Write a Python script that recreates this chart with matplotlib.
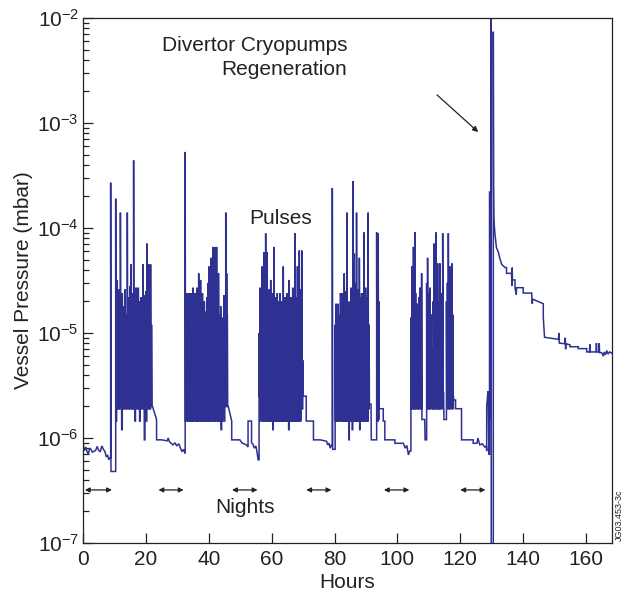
"""Vessel pressure over one week of operation, with divertor cryopump regeneration."""

import matplotlib
matplotlib.use("Agg")
import matplotlib.pyplot as plt
from matplotlib.ticker import FixedLocator, LogLocator, NullFormatter

plt.rcParams["font.family"] = ["Liberation Sans", "DejaVu Sans"]
plt.rcParams["mathtext.fontset"] = "custom"
plt.rcParams["mathtext.rm"] = "Liberation Sans"
plt.rcParams["mathtext.it"] = "Liberation Sans:italic"

LINE = "#2e3192"
INK = "#222222"
FS = 15

# --- data (hours, mbar) ----------------------------------------------------
# quiet periods (nights) as plain points
n0_t = [0.0, 0.2, 0.5, 0.9, 1.3, 1.7, 2.1, 2.5, 3.0, 3.5, 4.0, 4.5, 5.0, 5.5, 6.0, 6.5, 7.0, 7.4, 7.8, 8.2, 8.6]
n0_p = [1.0e-6, 8.2e-7, 7.6e-7, 8.2e-7, 7.4e-7, 7.0e-7, 8.0e-7, 7.8e-7, 7.3e-7, 7.5e-7, 7.6e-7, 8.3e-7,
        7.6e-7, 7.4e-7, 8.4e-7, 7.8e-7, 7.4e-7, 6.6e-7, 6.9e-7, 6.2e-7, 6.5e-7]

n1_t = [22.1, 23.4, 23.4, 25.0, 26.8, 27.1, 27.5, 28.6, 29.3, 29.8, 30.5, 31.0, 31.5, 32.0, 32.4]
n1_p = [2.0e-6, 1.5e-6, 9.6e-7, 9.6e-7, 9.4e-7, 1.0e-6, 9.2e-7, 8.6e-7, 9.0e-7, 8.4e-7, 8.8e-7, 8.0e-7,
        7.4e-7, 7.8e-7, 7.2e-7]

n2_t = [46.2, 47.3, 47.3, 49.9, 50.5, 51.2, 52.0, 52.5, 52.5, 53.6, 53.6, 54.0, 54.5, 55.0, 55.4, 55.7]
n2_p = [2.0e-6, 1.45e-6, 9.6e-7, 9.6e-7, 9.0e-7, 8.8e-7, 8.6e-7, 8.2e-7, 1.45e-6, 1.45e-6, 9.0e-7,
        8.8e-7, 8.0e-7, 8.4e-7, 7.2e-7, 6.2e-7]

n3_t = [70.3, 71.0, 71.0, 73.3, 73.3, 75.5, 77.5, 77.8, 78.3, 78.6, 79.0]
n3_p = [2.5e-6, 2.5e-6, 1.45e-6, 1.45e-6, 9.6e-7, 9.6e-7, 9.3e-7, 8.6e-7, 8.9e-7, 8.0e-7, 8.5e-7]

n4_t = [94.6, 95.5, 95.5, 96.0, 96.0, 99.2, 99.2, 101.9, 102.5, 103.0, 103.5, 103.9]
n4_p = [1.9e-6, 1.9e-6, 1.45e-6, 1.45e-6, 9.6e-7, 9.6e-7, 8.9e-7, 8.9e-7, 8.0e-7, 8.5e-7, 6.9e-7, 7.5e-7]

n5_t = [118.0, 118.5, 118.5, 120.4, 120.4, 124.1, 124.1, 125.3, 125.6, 126.2, 127.0, 127.8, 128.3,
        128.4, 128.4, 128.8, 128.9, 129.1]
n5_p = [2.3e-6, 2.3e-6, 1.9e-6, 1.9e-6, 9.6e-7, 9.6e-7, 8.9e-7, 8.9e-7, 1.0e-6, 8.6e-7, 8.8e-7, 8.2e-7,
        8.4e-7, 7.5e-7, 2.0e-6, 2.8e-6, 2.3e-6, 7.0e-7]

# pulse days: pulse time, peak pressure, pressure the trace falls back to
d1_t = [8.8, 10.4, 10.7, 10.9, 11.2, 11.5, 11.9, 12.2, 12.5, 12.8,
        13.1, 13.4, 13.7, 14.1, 14.4, 14.7, 15.0, 15.3, 15.6, 15.9,
        16.1, 16.4, 16.7, 17.0, 17.3, 17.6, 17.9, 18.2, 18.5, 18.8,
        19.1, 19.4, 19.7, 20.0, 20.3, 20.6, 20.9, 21.2, 21.5, 21.8]
d1_peak = [2.7e-4, 1.9e-4, 2.2e-5, 3.2e-5, 1.6e-5, 2.6e-5, 1.4e-4, 2.0e-5, 2.4e-5, 1.2e-5,
           1.8e-5, 2.6e-5, 1.5e-5, 1.4e-4, 2.2e-5, 1.7e-5, 2.8e-5, 4.5e-5, 1.4e-5, 2.4e-5,
           4.4e-4, 2.7e-5, 1.8e-5, 2.7e-5, 1.3e-5, 2.7e-5, 2.0e-5, 1.1e-5, 2.2e-5, 1.7e-5,
           4.5e-5, 2.3e-5, 1.5e-5, 2.5e-5, 7.1e-5, 2.4e-5, 4.5e-5, 1.8e-5, 4.5e-5, 1.2e-5]
d1_low = [4.8e-7, 1.45e-6, 1.9e-6, 2.3e-6, 1.9e-6, 1.9e-6, 2.3e-6, 1.2e-6, 1.9e-6, 1.9e-6,
          2.3e-6, 1.9e-6, 1.9e-6, 2.3e-6, 1.9e-6, 1.9e-6, 2.3e-6, 1.9e-6, 1.9e-6, 2.3e-6,
          1.9e-6, 1.45e-6, 1.9e-6, 2.3e-6, 1.9e-6, 1.9e-6, 1.45e-6, 1.9e-6, 2.3e-6, 1.9e-6,
          1.9e-6, 9.6e-7, 1.9e-6, 1.45e-6, 1.9e-6, 2.3e-6, 1.9e-6, 1.9e-6, 2.0e-6, 2.0e-6]

d2_t = [32.5, 32.9, 33.2, 33.5, 33.8, 34.1, 34.4, 34.7, 35.0, 35.3,
        35.6, 35.9, 36.2, 36.5, 36.8, 37.1, 37.4, 37.7, 38.0, 38.3,
        38.6, 38.9, 39.2, 39.5, 39.8, 40.1, 40.4, 40.7, 41.0, 41.3,
        41.6, 41.9, 42.2, 42.5, 42.8, 43.1, 43.4, 43.8, 44.1, 44.4,
        44.8, 45.1, 45.4, 45.7, 45.9]
d2_peak = [5.3e-4, 2.4e-5, 1.8e-5, 2.4e-5, 1.5e-5, 2.4e-5, 2.0e-5, 2.4e-5, 2.7e-5, 1.6e-5,
           2.4e-5, 2.0e-5, 2.7e-5, 1.8e-5, 3.7e-5, 2.2e-5, 3.2e-5, 1.6e-5, 2.4e-5, 1.4e-5,
           2.0e-5, 1.2e-5, 1.6e-5, 2.2e-5, 3.0e-5, 4.3e-5, 2.0e-5, 5.2e-5, 2.5e-5, 6.6e-5,
           1.8e-5, 6.6e-5, 2.8e-5, 6.6e-5, 2.0e-5, 3.7e-5, 1.5e-5, 1.8e-5, 1.2e-5, 1.4e-5,
           2.3e-5, 1.0e-5, 1.4e-4, 3.7e-5, 1.5e-5]
d2_low = [1.45e-6, 2.0e-6, 1.45e-6, 2.0e-6, 1.45e-6,
          2.0e-6, 1.45e-6, 1.45e-6, 2.0e-6, 1.45e-6,
          2.0e-6, 1.45e-6, 1.45e-6, 2.0e-6, 1.45e-6,
          2.0e-6, 1.45e-6, 1.45e-6, 2.0e-6, 1.45e-6,
          1.45e-6, 2.0e-6, 1.45e-6, 2.0e-6, 1.45e-6,
          1.45e-6, 2.0e-6, 1.45e-6, 2.0e-6, 1.45e-6,
          1.45e-6, 2.0e-6, 1.45e-6, 2.0e-6, 1.45e-6,
          1.45e-6, 2.0e-6, 1.2e-6, 1.45e-6, 2.0e-6,
          1.45e-6, 2.0e-6, 2.0e-6, 2.0e-6, 2.0e-6]

d3_t = [56.0, 56.3, 56.6, 57.0, 57.3, 57.6, 57.9, 58.1, 58.4, 58.6,
        58.9, 59.2, 59.5, 59.7, 60.0, 60.3, 60.5, 60.7, 61.0, 61.3,
        61.6, 61.8, 62.1, 62.4, 62.7, 63.0, 63.3, 63.5, 63.7, 64.0,
        64.3, 64.6, 64.8, 65.1, 65.3, 65.6, 65.9, 66.2, 66.5, 66.7,
        67.0, 67.2, 67.4, 67.7, 68.0, 68.2, 68.5, 68.8, 69.1, 69.3,
        69.6, 69.9]
d3_peak = [1.0e-5, 2.7e-5, 1.5e-5, 4.3e-5, 2.0e-5, 5.9e-5, 2.5e-5, 8.9e-5, 3.0e-5, 5.9e-5,
           1.8e-5, 2.6e-5, 1.5e-5, 3.2e-5, 2.0e-5, 2.4e-5, 1.4e-5, 6.6e-5, 1.8e-5, 2.2e-5,
           1.2e-5, 2.4e-5, 1.6e-5, 2.0e-5, 2.4e-5, 1.3e-5, 2.0e-5, 1.5e-5, 4.3e-5, 1.8e-5,
           2.2e-5, 1.4e-5, 2.4e-5, 1.7e-5, 1.2e-5, 3.2e-5, 1.6e-5, 2.2e-5, 1.3e-5, 2.7e-5,
           1.8e-5, 2.4e-5, 8.9e-5, 2.2e-5, 1.6e-5, 4.3e-5, 2.0e-5, 6.1e-5, 1.8e-5, 2.6e-5,
           6.1e-5, 5.5e-6]
d3_low = [2.5e-6, 1.45e-6, 1.9e-6, 1.45e-6, 1.45e-6, 1.9e-6, 1.45e-6, 1.9e-6, 1.45e-6, 1.45e-6,
          1.9e-6, 1.45e-6, 1.45e-6, 1.9e-6, 1.45e-6, 1.2e-6, 1.45e-6, 1.9e-6, 1.45e-6, 1.45e-6,
          1.9e-6, 1.45e-6, 1.45e-6, 1.9e-6, 1.45e-6, 1.45e-6, 1.9e-6, 1.45e-6, 1.45e-6, 1.9e-6,
          1.45e-6, 1.45e-6, 1.9e-6, 1.45e-6, 1.2e-6, 1.9e-6, 1.45e-6, 1.45e-6, 1.9e-6, 1.45e-6,
          1.45e-6, 1.9e-6, 1.45e-6, 1.45e-6, 1.9e-6, 1.45e-6, 1.45e-6, 1.9e-6, 1.45e-6, 1.9e-6,
          1.9e-6, 2.5e-6]

d4_t = [79.3, 80.2, 80.5, 80.8, 81.2, 81.5, 81.9, 82.2, 82.5, 82.8,
        83.1, 83.4, 83.7, 83.9, 84.2, 84.5, 84.7, 85.0, 85.2, 85.5,
        85.8, 86.0, 86.3, 86.6, 86.8, 87.0, 87.3, 87.6, 87.9, 88.1,
        88.4, 88.6, 88.9, 89.1, 89.3, 89.6, 89.9, 90.2, 90.4, 90.7,
        91.0, 91.6, 93.4, 93.6, 93.9, 94.1]
d4_peak = [2.4e-4, 1.2e-5, 1.9e-5, 1.4e-5, 1.9e-5, 1.5e-5, 2.4e-5, 1.3e-5, 2.4e-5, 1.6e-5,
           3.7e-5, 1.8e-5, 2.5e-5, 1.4e-4, 2.0e-5, 1.4e-5, 6.4e-6, 2.0e-5, 2.7e-5, 1.6e-5,
           2.8e-4, 2.2e-5, 5.7e-5, 1.8e-5, 3.0e-5, 1.4e-4, 2.0e-5, 2.6e-5, 5.2e-5, 1.7e-5,
           2.2e-5, 2.4e-5, 1.5e-5, 2.4e-5, 9.1e-5, 1.8e-5, 2.7e-5, 1.6e-5, 2.2e-5, 1.4e-4,
           1.2e-5, 2.1e-6, 9.1e-5, 3.0e-5, 8.9e-5, 2.0e-5]
d4_low = [7.8e-7, 1.45e-6, 1.9e-6, 1.45e-6, 1.45e-6, 1.9e-6, 1.45e-6, 1.45e-6, 1.9e-6, 1.45e-6,
          1.45e-6, 1.9e-6, 1.45e-6, 1.45e-6, 1.9e-6, 9.6e-7, 1.45e-6, 1.9e-6, 1.45e-6, 1.2e-6,
          1.9e-6, 1.45e-6, 1.45e-6, 1.9e-6, 1.45e-6, 1.45e-6, 1.9e-6, 1.45e-6, 1.2e-6, 1.9e-6,
          1.45e-6, 1.45e-6, 1.9e-6, 1.45e-6, 1.45e-6, 1.9e-6, 1.45e-6, 1.9e-6, 1.45e-6, 1.9e-6,
          2.1e-6, 9.6e-7, 1.5e-6, 1.45e-6, 1.5e-6, 1.9e-6]

d5_t = [104.3, 104.6, 104.9, 105.1, 105.3, 105.6, 105.8, 106.1, 106.4, 106.6,
        106.9, 107.2, 107.5, 107.7, 108.7, 109.3, 109.6, 109.9, 110.1, 110.4,
        110.7, 111.1, 111.4, 111.6, 111.9, 112.2, 112.5, 112.8, 113.0, 113.2,
        113.5, 113.8, 114.1, 114.4, 114.7, 115.6, 115.9, 116.2, 116.5, 116.7,
        117.0, 117.3, 117.6, 117.8]
d5_peak = [1.4e-5, 4.3e-5, 2.0e-5, 6.6e-5, 3.0e-5, 9.1e-5, 2.4e-5, 1.9e-5, 1.4e-5, 1.9e-5,
           2.2e-5, 2.7e-5, 1.6e-5, 3.7e-5, 1.5e-6, 3.0e-5, 5.2e-5, 1.8e-5, 2.4e-5, 2.7e-5,
           1.5e-5, 7.4e-6, 2.0e-5, 7.1e-5, 2.2e-5, 9.1e-5, 1.8e-5, 4.6e-5, 2.0e-5, 1.5e-5,
           4.6e-5, 1.8e-5, 2.4e-5, 8.9e-5, 2.7e-6, 2.0e-5, 3.0e-5, 8.9e-5, 2.0e-5, 4.3e-5,
           1.6e-5, 4.6e-5, 1.5e-5, 2.5e-6]
d5_low = [1.9e-6, 2.3e-6, 1.9e-6, 1.9e-6, 2.3e-6, 1.9e-6, 1.9e-6, 2.3e-6, 1.9e-6, 1.9e-6,
          2.3e-6, 1.9e-6, 1.9e-6, 1.5e-6, 9.6e-7, 1.9e-6, 2.3e-6, 1.9e-6, 1.9e-6, 2.3e-6,
          1.9e-6, 1.9e-6, 2.3e-6, 1.9e-6, 1.9e-6, 2.3e-6, 1.9e-6, 1.9e-6, 2.3e-6, 1.9e-6,
          1.9e-6, 2.3e-6, 1.9e-6, 2.7e-6, 1.5e-6, 1.9e-6, 2.3e-6, 1.9e-6, 1.9e-6, 2.3e-6,
          1.9e-6, 2.3e-6, 1.9e-6, 2.3e-6]

# cryopump regeneration spikes, then pump-down tail
rg_t = [129.3, 129.3, 129.45, 129.45, 129.8, 129.8, 129.85, 130.5, 130.5, 130.6, 130.7]
rg_p = [7.0e-7, 2.2e-4, 2.2e-4, 1.5e-6, 2.4e-4, 2.0e-2, 5.0e-8, 5.0e-8, 7.4e-3, 2.6e-4, 1.2e-4]

tl_t = [131.0, 131.5, 132.1, 132.6, 133.2, 134.2, 134.7, 134.7, 136.3, 136.4, 136.5, 136.6,
        137.4, 137.4, 137.8, 137.9, 140.0, 140.0, 142.7, 142.9, 143.0, 146.4, 146.4, 146.8,
        151.2, 151.4, 151.5, 151.7, 153.3, 153.4, 153.5, 153.6, 154.9, 154.9, 157.5, 157.5,
        160.2, 160.2, 161.1, 161.2, 161.3, 163.2, 163.3, 163.4, 164.1, 164.2, 164.3, 165.0,
        165.5, 165.8, 166.2, 166.6, 167.0, 167.5, 168.3]
tl_p = [8.9e-5, 6.5e-5, 5.9e-5, 5.1e-5, 4.5e-5, 4.2e-5, 4.2e-5, 3.7e-5, 3.7e-5, 2.8e-5, 4.2e-5, 3.2e-5,
        3.2e-5, 2.7e-5, 2.3e-5, 2.7e-5, 2.7e-5, 2.4e-5, 2.4e-5, 1.9e-5, 2.1e-5, 1.9e-5, 1.4e-5, 9.1e-6,
        8.7e-6, 1.0e-5, 8.0e-6, 8.0e-6, 7.9e-6, 9.0e-6, 7.0e-6, 7.9e-6, 7.7e-6, 7.4e-6, 7.4e-6, 7.1e-6,
        7.1e-6, 6.6e-6, 6.6e-6, 7.8e-6, 6.6e-6, 6.6e-6, 8.0e-6, 6.6e-6, 6.6e-6, 8.0e-6, 6.5e-6, 6.5e-6,
        6.0e-6, 6.6e-6, 6.2e-6, 6.8e-6, 6.3e-6, 6.6e-6, 6.4e-6]

night_start = [0.6, 24.0, 47.4, 71.0, 95.7, 120.0]
night_end = [9.2, 32.0, 55.5, 79.0, 103.8, 128.0]
night_level = 3.2e-7

decades = [1e-7, 1e-6, 1e-5, 1e-4, 1e-3, 1e-2]
decade_labels = ["10$^{-7}$", "10$^{-6}$", "10$^{-5}$", "10$^{-4}$", "10$^{-3}$", "10$^{-2}$"]
hour_ticks = [0, 20, 40, 60, 80, 100, 120, 140, 160]


def add_plain(xs, ys, t, p):
    xs.extend(t)
    ys.extend(p)


def add_pulses(xs, ys, t, peak, low, width=0.1):
    assert len(t) == len(peak) == len(low), (len(t), len(peak), len(low))
    for ti, pk, lo in zip(t, peak, low):
        xs += [ti, ti, ti + width]
        ys += [ys[-1], pk, lo]


xs, ys = [], []
add_plain(xs, ys, n0_t, n0_p)
add_pulses(xs, ys, d1_t, d1_peak, d1_low)
add_plain(xs, ys, n1_t, n1_p)
add_pulses(xs, ys, d2_t, d2_peak, d2_low)
add_plain(xs, ys, n2_t, n2_p)
add_pulses(xs, ys, d3_t, d3_peak, d3_low)
add_plain(xs, ys, n3_t, n3_p)
add_pulses(xs, ys, d4_t, d4_peak, d4_low)
add_plain(xs, ys, n4_t, n4_p)
add_pulses(xs, ys, d5_t, d5_peak, d5_low)
add_plain(xs, ys, n5_t, n5_p)
add_plain(xs, ys, rg_t, rg_p)
add_plain(xs, ys, tl_t, tl_p)

fig = plt.figure(figsize=(6.24, 5.99), dpi=100)
ax = fig.add_axes([0.133, 0.0935, 0.848, 0.8765])

ax.plot(xs, ys, color=LINE, lw=1.1, solid_joinstyle="miter")
ax.set_yscale("log")
ax.set_xlim(0, 168.3)
ax.set_ylim(1e-7, 1e-2)

ax.yaxis.set_major_locator(FixedLocator(decades))
ax.set_yticklabels(decade_labels)
ax.yaxis.set_minor_locator(LogLocator(base=10, subs=[2, 3, 4, 5, 6, 7, 8, 9]))
ax.yaxis.set_minor_formatter(NullFormatter())
ax.set_xticks(hour_ticks)

ax.tick_params(which="both", direction="in", top=False, right=False, colors=INK, labelsize=FS, width=0.9)
ax.tick_params(which="major", length=7, pad=3)
ax.tick_params(which="minor", length=4)
ax.tick_params(axis="x", pad=5)
for s in ax.spines.values():
    s.set_color(INK)
    s.set_linewidth(0.9)

ax.set_xlabel("Hours", fontsize=FS, color=INK, labelpad=3)
ax.set_ylabel("Vessel Pressure (mbar)", fontsize=FS, color=INK, labelpad=3)

for a, b in zip(night_start, night_end):
    ax.annotate("", xy=(a, night_level), xytext=(b, night_level),
                arrowprops=dict(arrowstyle="<|-|>", color=INK, lw=0.9, mutation_scale=7, shrinkA=0, shrinkB=0))

ax.text(51.5, 2.2e-7, "Nights", fontsize=FS, color=INK, ha="center", va="center")
ax.text(62.7, 1.24e-4, "Pulses", fontsize=FS, color=INK, ha="center", va="center")
ax.text(84.0, 5.5e-3, "Divertor Cryopumps", fontsize=FS, color=INK, ha="right", va="center")
ax.text(84.0, 3.2e-3, "Regeneration", fontsize=FS, color=INK, ha="right", va="center")
ax.annotate("", xy=(125.7, 8.2e-4), xytext=(112.6, 1.85e-3),
            arrowprops=dict(arrowstyle="-|>", color=INK, lw=0.9, mutation_scale=8, shrinkA=0, shrinkB=0))

fig.text(0.993, 0.14, "JG03.453-3c", rotation=90, fontsize=6.5, color=INK, ha="center", va="center")

fig.savefig("out.png", dpi=100)
